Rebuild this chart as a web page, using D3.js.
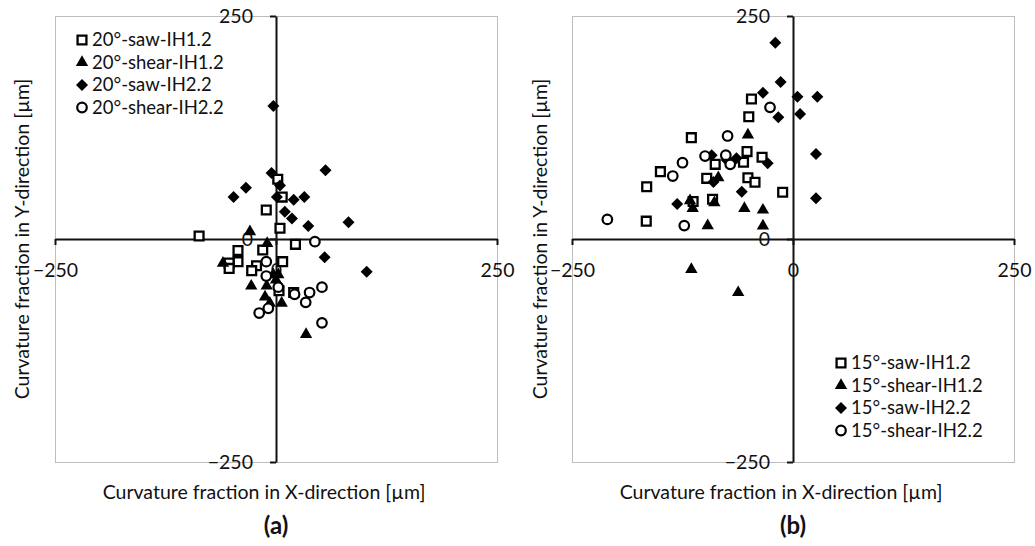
<!DOCTYPE html>
<html>
<head>
<meta charset="utf-8">
<script src="https://cdn.jsdelivr.net/npm/d3@7"></script>
<style>
  html, body { margin: 0; padding: 0; background: #fff; }
  svg { display: block; }
  text { font-family: Lato, "Open Sans", sans-serif; fill: #111; }
</style>
</head>
<body>
<svg id="chart" width="1035" height="546"></svg>
<script>
// ---- data -------------------------------------------------------------
const tickValues = [-250, 0, 250];
const xTitle = "Curvature fraction in X-direction [µm]";
const yTitle = "Curvature fraction in Y-direction [µm]";

// Panel (a): 20° specimens
const seriesNamesA = ["20°-saw-IH1.2", "20°-shear-IH1.2", "20°-saw-IH2.2", "20°-shear-IH2.2"];
const sawIH12A_x = [2, 7, -11, 4.5, -87, 22, -43, -15, -43, -53, -53, -22, -27.5, 7.5, 3.4, 20];
const sawIH12A_y = [67, 47, 32.5, 12, 3.4, -6, -13, -12.3, -25.4, -27, -33, -30, -35.5, -25.4, -58, -60];
const shearIH12A_x = [-29.5, -10, -60, -3, 2.6, 0, -28, -10.5, -12.4, -7, 6.4, 34];
const shearIH12A_y = [8.2, -5, -27, -40, -40, -46, -52.7, -52.7, -65, -72, -72, -107];
const sawIH22A_x = [-3, -5, 4.5, 56, -34, -48, 1, 20, 32, 10, 18, 36.5, 82, 55, 102.6];
const sawIH22A_y = [149, 74, 60, 77, 57.5, 47, 47, 44, 47, 30.6, 23, 14.6, 18.7, -20.5, -36.6];
const shearIH22A_x = [-11, 44, -11, 2.6, 21, 38, 52, 33.6, -8.7, -19, 52];
const shearIH22A_y = [-25.4, -3, -41.5, -54, -62, -60, -54, -71, -77.7, -83, -94];

// Panel (b): 15° specimens
const seriesNamesB = ["15°-saw-IH1.2", "15°-shear-IH1.2", "15°-saw-IH2.2", "15°-shear-IH2.2"];
const sawIH12B_x = [-47, -50, -115, -52, -88, -56, -35, -150, -165.5, -97.6, -51, -43, -11.7, -113, -91, -166];
const sawIH12B_y = [157, 137, 113.6, 98, 83.7, 86, 91.6, 75.5, 58.6, 68, 68.7, 63.6, 52.4, 42, 44.5, 20];
const shearIH12B_x = [-51, -84.5, -116.5, -113.5, -89, -55, -34, -96.5, -34, -115, -62];
const shearIH12B_y = [116.6, 68.7, 43, 34.4, 40.7, 34.4, 32.5, 15, 14.6, -34, -60];
const sawIH22B_x = [-20, -14, -34, 5, 27.5, -16.6, 8, 26, 26, -92, -64, -75, -28.6, -90, -58, -131];
const sawIH22B_y = [220, 176, 164, 159.5, 159.5, 136.4, 140, 95.3, 45.6, 94, 90.5, 88.6, 84.9, 64, 53, 39.2];
const shearIH22B_x = [-26, -74, -99.5, -76, -71, -125, -136, -210, -123];
const shearIH22B_y = [147.6, 115.5, 93, 94, 83.7, 85.5, 70.6, 22, 15];

// ---- marker styles ----------------------------------------------------
const diamondType = {
  draw(ctx, size) {
    const r = Math.sqrt(size / 2);
    ctx.moveTo(0, -r); ctx.lineTo(r, 0); ctx.lineTo(0, r); ctx.lineTo(-r, 0); ctx.closePath();
  }
};
const markerStyles = [
  { type: d3.symbolSquare,   size: 78, fill: "#fff", stroke: "#000", sw: 2.3 },
  { type: d3.symbolTriangle, size: 66, fill: "#000", stroke: "none", sw: 0 },
  { type: diamondType,       size: 72, fill: "#000", stroke: "none", sw: 0 },
  { type: d3.symbolCircle,   size: 72, fill: "#fff", stroke: "#000", sw: 2.2 }
];

const svg = d3.select("#chart");

function drawPanel(cfg) {
  const x = d3.scaleLinear().domain([-250, 250]).range([cfg.left, cfg.right]);
  const y = d3.scaleLinear().domain([-250, 250]).range([462, 16]);
  const g = svg.append("g");

  // plot-area frame
  g.append("rect")
    .attr("x", cfg.left + 0.5).attr("y", 16.5)
    .attr("width", cfg.right - cfg.left).attr("height", 446)
    .attr("fill", "none").attr("stroke", "#bdbdbd").attr("stroke-width", 1);

  // axes crossing at the origin
  const xAxis = d3.axisBottom(x).tickValues(tickValues).tickSize(6).tickSizeOuter(0).tickPadding(18)
    .tickFormat(d3.format("d"));
  const yAxis = d3.axisLeft(y).tickValues(tickValues).tickSize(6).tickSizeOuter(0).tickPadding(17)
    .tickFormat(d3.format("d"));

  const gx = g.append("g").attr("transform", `translate(0,${y(0)})`).call(xAxis);
  const gy = g.append("g").attr("transform", `translate(${x(0)},0)`).call(yAxis);
  [gx, gy].forEach(a => {
    a.select(".domain").attr("stroke", "#111").attr("stroke-width", 2);
    a.selectAll(".tick line").attr("stroke", "#111").attr("stroke-width", 2);
    a.selectAll(".tick text").style("font-family", "Lato, 'Open Sans', sans-serif")
      .style("font-size", "19.5px").attr("fill", "#111");
  });

  // series markers
  cfg.series.forEach((s, i) => {
    const st = markerStyles[i];
    const sym = d3.symbol().type(st.type).size(st.size);
    g.append("g").selectAll("path")
      .data(d3.zip(s[0], s[1]))
      .join("path")
      .attr("transform", d => `translate(${x(d[0])},${y(d[1])})`)
      .attr("d", sym)
      .attr("fill", st.fill).attr("stroke", st.stroke).attr("stroke-width", st.sw);
  });

  // legend
  const lg = g.append("g");
  cfg.names.forEach((name, i) => {
    const st = markerStyles[i];
    const cy = cfg.legendY + i * 22.5;
    lg.append("path")
      .attr("transform", `translate(${cfg.legendX},${cy})`)
      .attr("d", d3.symbol().type(st.type).size(st.size)())
      .attr("fill", st.fill).attr("stroke", st.stroke).attr("stroke-width", st.sw);
    lg.append("text")
      .attr("x", cfg.legendX + 10).attr("y", cy).attr("dy", "0.35em")
      .style("font-size", "18.5px").text(name);
  });

  // axis titles
  g.append("text")
    .attr("x", (cfg.left + cfg.right) / 2 - 12).attr("y", 492).attr("dy", "0.35em")
    .attr("text-anchor", "middle").style("font-size", "19.5px").text(xTitle);
  g.append("text")
    .attr("transform", `translate(${cfg.yTitleX},239) rotate(-90)`)
    .attr("dy", "0.35em").attr("text-anchor", "middle").style("font-size", "19.5px").text(yTitle);

  // panel tag
  g.append("text")
    .attr("x", x(0)).attr("y", 526).attr("dy", "0.35em")
    .attr("text-anchor", "middle").style("font-size", "24px").style("font-weight", "bold")
    .text(cfg.tag);
}

drawPanel({
  left: 55, right: 497, yTitleX: 22, tag: "(a)",
  names: seriesNamesA, legendX: 82, legendY: 40,
  series: [[sawIH12A_x, sawIH12A_y], [shearIH12A_x, shearIH12A_y],
           [sawIH22A_x, sawIH22A_y], [shearIH22A_x, shearIH22A_y]]
});
drawPanel({
  left: 572, right: 1014, yTitleX: 540, tag: "(b)",
  names: seriesNamesB, legendX: 841, legendY: 363,
  series: [[sawIH12B_x, sawIH12B_y], [shearIH12B_x, shearIH12B_y],
           [sawIH22B_x, sawIH22B_y], [shearIH22B_x, shearIH22B_y]]
});
</script>
</body>
</html>
